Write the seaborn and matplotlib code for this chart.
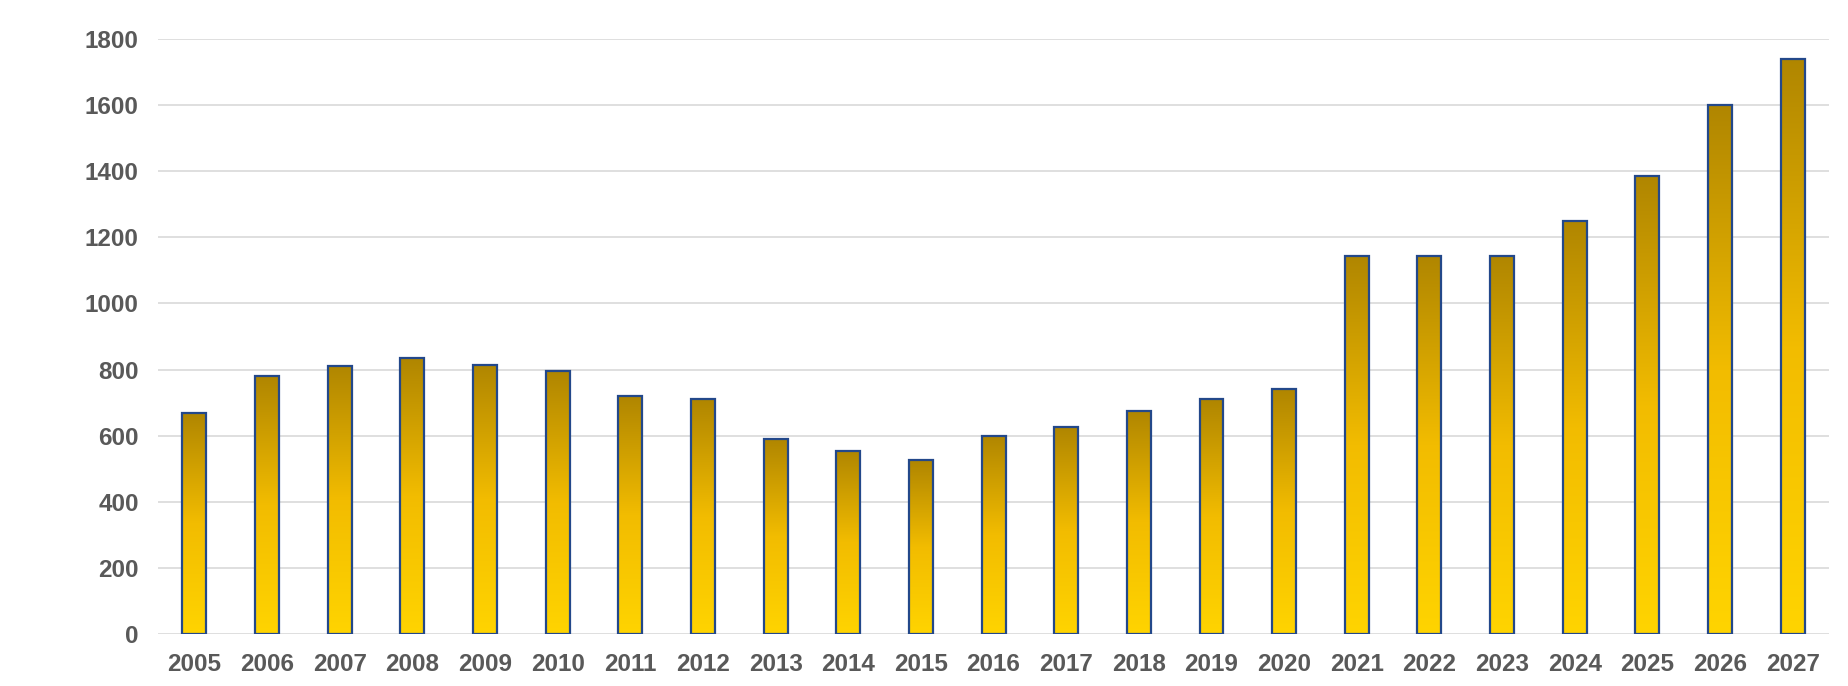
import numpy as np
import pandas as pd
import seaborn as sns
import matplotlib.pyplot as plt
from matplotlib.colors import LinearSegmentedColormap

years = [str(y) for y in range(2005, 2028)]
values = [670, 780, 812, 835, 815, 795, 720, 710, 590, 555, 525, 600,
          625, 675, 710, 740, 1145, 1145, 1145, 1250, 1385, 1600, 1740]
yticks = [0, 200, 400, 600, 800, 1000, 1200, 1400, 1600, 1800]

df = pd.DataFrame({'year': years, 'value': values})

sns.set_style('white')
plt.rcParams['font.family'] = ['Liberation Sans', 'DejaVu Sans']

fig = plt.figure(figsize=(18.49, 6.86), dpi=100)
ax = fig.add_axes([0.0855, 0.0758, 0.9892 - 0.0855, 0.9431 - 0.0758])

sns.barplot(data=df, x='year', y='value', width=0.33, color='#FFD200',
            edgecolor='#23488a', linewidth=1.6, ax=ax, zorder=3)

# vertical gradient inside each bar: dark gold at top, bright yellow at bottom
cmap = LinearSegmentedColormap.from_list('gold', ['#FFD400', '#F2BC00', '#B08600'])
grad = np.linspace(0, 1, 256).reshape(-1, 1)
for p in ax.patches:
    x0, y0 = p.get_x(), p.get_y()
    w, h = p.get_width(), p.get_height()
    im = ax.imshow(grad, cmap=cmap, aspect='auto', origin='lower',
                   extent=[x0, x0 + w, y0, y0 + h], zorder=2,
                   interpolation='bilinear')
    im.set_clip_path(p)
    p.set_facecolor('none')

ax.set_xlim(-0.5, len(years) - 0.5)
ax.set_ylim(0, 1800)
ax.set_yticks(yticks)
ax.yaxis.grid(True, color='#d9d9d9', linewidth=1.2, zorder=0)
ax.set_axisbelow(True)
for s in ax.spines.values():
    s.set_visible(False)
ax.tick_params(axis='both', length=0, labelsize=17.5, labelcolor='#595959')
ax.tick_params(axis='y', pad=14)
ax.tick_params(axis='x', pad=14)
for lab in ax.get_xticklabels() + ax.get_yticklabels():
    lab.set_fontweight('bold')
ax.set_xlabel('')
ax.set_ylabel('')

fig.savefig('out.png', dpi=100)
